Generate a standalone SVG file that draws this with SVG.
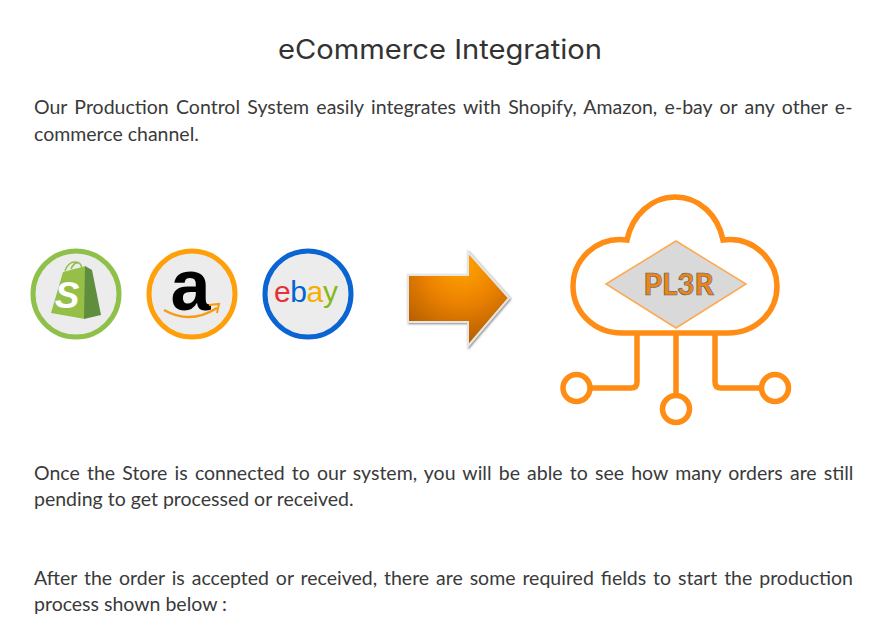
<svg xmlns="http://www.w3.org/2000/svg" width="885" height="620" viewBox="0 0 885 620">
<style>
.b{font-family:Lato,"Open Sans",sans-serif;font-size:19.5px;fill:#3a3a3a}
.t{font-family:Inter,"Noto Sans",sans-serif;font-size:27px;font-weight:400;fill:#333}
.o{fill:none;stroke:#ff8c14;stroke-width:5.5}
.d{fill:#ececec;stroke-width:5}
</style>
<defs>
<radialGradient id="ag" gradientUnits="userSpaceOnUse" cx="462" cy="266" r="82"><stop offset="0" stop-color="#ffa400"/><stop offset="0.45" stop-color="#ec8200"/><stop offset="1" stop-color="#ae5a00"/></radialGradient>
<filter id="s" x="-10%" y="-10%" width="120%" height="120%"><feDropShadow dx="1" dy="1" stdDeviation="1" flood-color="#555" flood-opacity="0.7"/></filter>
</defs>
<rect width="885" height="620" fill="#fff"/>
<text class="t" x="278" y="59" textLength="324" lengthAdjust="spacingAndGlyphs">eCommerce Integration</text>
<text class="b" x="34" y="114" word-spacing="2.35">Our Production Control System easily integrates with Shopify, Amazon, e-bay or any other e-</text>
<text class="b" x="34" y="141">commerce channel.</text>
<text class="b" x="34" y="480" word-spacing="2.2">Once the Store is connected to our system, you will be able to see how many orders are still</text>
<text class="b" x="34" y="506">pending to get processed or received.</text>
<text class="b" x="34" y="585" word-spacing="1.93">After the order is accepted or received, there are some required fields to start the production</text>
<text class="b" x="34" y="611">process shown below :</text>
<g id="shopify">
<circle class="d" cx="76" cy="294" r="43" stroke="#8fc04a"/>
<path d="M51 313L63 272Q70 270 86 266L85 319Z" fill="#95bf47"/>
<path d="M85 266L92 270L101 315L84 319Z" fill="#5e8e3e"/>
<path d="M65 271Q68 262 75 262Q82 262 82 270M71 269Q74 262 78 263" fill="none" stroke="#95bf47" stroke-width="1.500"/>
<text x="67" y="308" font-family="Liberation Sans,sans-serif" font-size="37" font-weight="700" font-style="italic" fill="#fff" text-anchor="middle">S</text>
</g>
<g id="amazon">
<circle class="d" cx="192" cy="294" r="43" stroke="#ff9f0a"/>
<text x="190.500" y="310" font-family="Liberation Sans,sans-serif" font-size="72" font-weight="700" fill="#000" text-anchor="middle">a</text>
<path d="M164 310Q190 325 217 308" fill="none" stroke="#f79a12" stroke-width="2.500"/>
<path d="M209 305L219 304L217 313" fill="none" stroke="#f79a12" stroke-width="2"/>
</g>
<g id="ebay">
<circle class="d" cx="308" cy="294" r="43" stroke="#0a64d2"/>
<text x="274" y="302" font-family="Liberation Sans,sans-serif" font-size="30" letter-spacing="-0.400"><tspan fill="#e53238">e</tspan><tspan fill="#0064d2">b</tspan><tspan fill="#f5af02">a</tspan><tspan fill="#86b817">y</tspan></text>
</g>
<g id="arrow">
<path d="M408 275H468V252L509 298L468 346V322H408Z" fill="url(#ag)" stroke="#e6e6e6" stroke-width="2" filter="url(#s)"/>
</g>
<g id="connectors">
<path class="o" d="M637 333V382Q637 388 631 388H590"/>
<path class="o" d="M676 333V395"/>
<path class="o" d="M715 333V382Q715 388 721 388H761"/>
</g>
<g id="cloud">
<path class="o" d="M627 240C632 215 652 197 675 197C699 197 718 215 723 240C755 236 777 262 777 286C777 312 756 333 728 333H622C594 333 573 312 573 286C573 260 596 236 627 240Z"/>
<path d="M606 284L676 241L746 284L676 328Z" fill="#d9d9d9" stroke="#ffa850" stroke-width="1.500"/>
<text x="678.500" y="295" font-family="Lato,sans-serif" font-size="29.500" font-weight="900" fill="#ec8418" stroke="#4f5f70" stroke-width="0.600" text-anchor="middle">PL3R</text>
</g>
<g id="n1"><circle class="o" cx="576.500" cy="388" r="13.500"/></g>
<g id="n2"><circle class="o" cx="676" cy="409" r="13.500"/></g>
<g id="n3"><circle class="o" cx="775" cy="388" r="13.500"/></g>
</svg>
